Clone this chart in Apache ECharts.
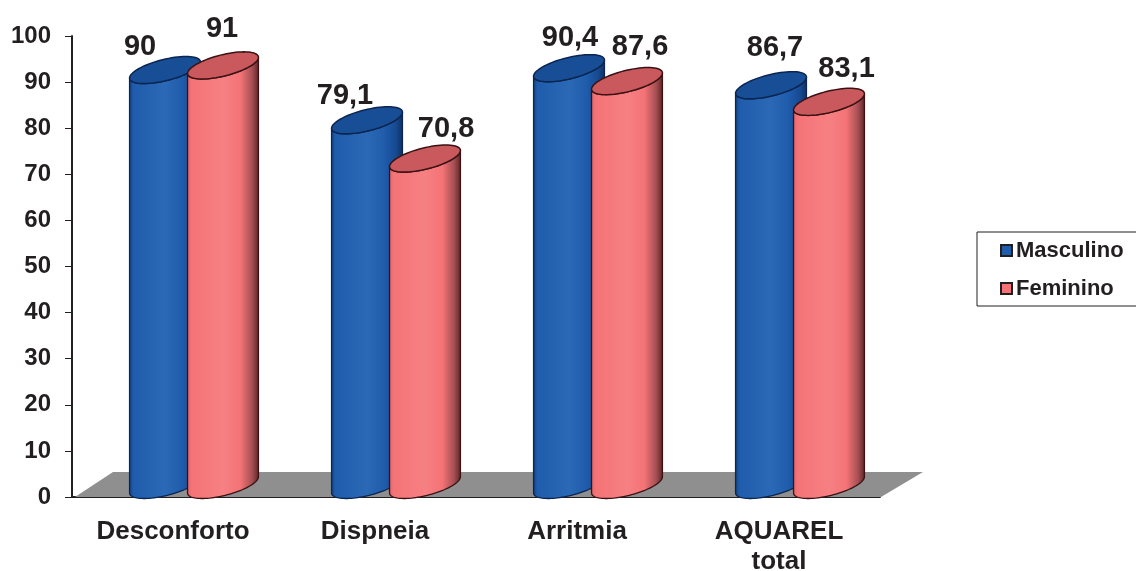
<!DOCTYPE html>
<html>
<head>
<meta charset="utf-8">
<style>html,body{margin:0;padding:0;background:#fff;overflow:hidden}#chart{width:1136px;height:571px}</style>
<script src="https://cdn.jsdelivr.net/npm/echarts@6/dist/echarts.min.js"></script>
</head>
<body>
<div id="chart"></div>
<script>
const categories = ['Desconforto', 'Dispneia', 'Arritmia', 'AQUAREL\ntotal'];
const masculino = [90, 79.1, 90.4, 86.7];
const feminino = [91, 70.8, 87.6, 83.1];

// Hand placement of the value labels relative to each cylinder's left shoulder
const masculinoNudge = [[10.5, -35], [13.4, -36.8], [36.4, -41.8], [39.4, -49.3]];
const femininoNudge = [[34.5, -48.5], [56.5, -41.5], [48.5, -45.7], [53, -44.9]];

const FONT = '"Liberation Sans", Arial, sans-serif';
const INK = '#231f20';

// Cylinder proportions, as fractions of one category band
const WIDTH_FRAC = 0.35;
const TILT = 0.25;       // rise of the ellipse's long axis over its run
const MINOR_FRAC = 0.15; // minor semi-axis relative to cylinder width

const fmt = v => String(v).replace('.', ',');

function ellipsePoint(c, a, b, t) {
  return [c[0] + a[0] * Math.cos(t) + b[0] * Math.sin(t),
          c[1] + a[1] * Math.cos(t) + b[1] * Math.sin(t)];
}

function arc(c, a, b, from, to, n) {
  const pts = [];
  for (let i = 0; i <= n; i++) pts.push(ellipsePoint(c, a, b, from + (to - from) * i / n));
  return pts;
}

function cylinderItem(palette, bandOffset, nudges) {
  return function (params, api) {
    const idx = api.value(0);
    const value = api.value(1);
    const band = api.size([1, 0])[0];
    const top = api.coord([idx, value]);
    const base = api.coord([idx, 0]);
    const w = band * WIDTH_FRAC;
    const left = top[0] + band * bandOffset;

    // long axis rises to the right, short axis is perpendicular to it
    const a = [w / 2, -w / 2 * TILT];
    const len = Math.hypot(a[0], a[1]);
    const ry = w * MINOR_FRAC;
    const b = [-a[1] / len * ry, a[0] / len * ry];

    // parameters of the vertical tangents on the silhouette
    const tR = Math.atan2(b[0], a[0]);
    const tL = tR + Math.PI;
    const halfW = ellipsePoint([0, 0], a, b, tR)[0];
    // the lowest point of each ellipse sits just under the value's height
    const anchorDy = 1.5 - Math.hypot(a[1], b[1]);

    const cx = left + halfW;
    const cTop = [cx, top[1] + anchorDy];
    const cBase = [cx, base[1] + anchorDy];

    // side wall: front of the base, then up and across the front of the lid
    const body = arc(cBase, a, b, tL, tR, 48).concat(arc(cTop, a, b, tR, tL, 48));
    const lid = arc(cTop, a, b, 0, Math.PI * 2, 72);

    const side = new echarts.graphic.LinearGradient(0, 0, 1, 0, [
      { offset: 0, color: palette[0] },
      { offset: 0.06, color: palette[1] },
      { offset: 0.5, color: palette[2] },
      { offset: 0.74, color: palette[1] },
      { offset: 0.9, color: palette[3] },
      { offset: 1, color: palette[6] }
    ]);

    const nudge = nudges[idx];
    return {
      type: 'group',
      children: [
        { type: 'polygon', shape: { points: body },
          style: { fill: side, stroke: palette[5], lineWidth: 1.3 } },
        { type: 'polygon', shape: { points: lid },
          style: { fill: palette[4], stroke: palette[5], lineWidth: 1.5 } },
        { type: 'text', z2: 10,
          style: { text: fmt(value), x: left + nudge[0], y: top[1] + nudge[1],
                   align: 'center', verticalAlign: 'middle',
                   font: 'bold 29px ' + FONT, fill: INK } }
      ]
    };
  };
}

const chart = echarts.init(document.getElementById('chart'), null, { renderer: 'canvas' });

chart.setOption({
  animation: false,
  backgroundColor: '#ffffff',
  grid: { left: 72, top: 36, width: 808, height: 461, containLabel: false, outerBoundsMode: 'none' },
  legend: {
    left: 977, top: 232, orient: 'vertical',
    itemWidth: 11, itemHeight: 11, itemGap: 13,
    padding: [6, 20, 5, 23],
    borderColor: INK, borderWidth: 1, backgroundColor: '#fff',
    textStyle: { fontFamily: FONT, fontWeight: 'bold', fontSize: 22, lineHeight: 25, color: INK, padding: [0, 0, 0, -1] },
    data: [
      { name: 'Masculino', icon: 'rect', itemStyle: { color: '#1f5cab', borderColor: INK, borderWidth: 2 } },
      { name: 'Feminino', icon: 'rect', itemStyle: { color: '#f47376', borderColor: INK, borderWidth: 2 } }
    ]
  },
  xAxis: {
    type: 'category', data: categories,
    axisLine: { onZero: false, lineStyle: { color: INK, width: 2 } },
    axisTick: { alignWithLabel: false, length: 7, lineStyle: { color: INK, width: 1 } },
    axisLabel: { fontFamily: FONT, fontWeight: 'bold', fontSize: 26, color: INK, margin: 20, lineHeight: 30 }
  },
  yAxis: {
    type: 'value', min: 0, max: 100, interval: 10,
    splitLine: { show: false },
    axisLine: { show: true, lineStyle: { color: INK, width: 2 } },
    axisTick: { show: true, length: 7, lineStyle: { color: INK, width: 1 } },
    axisLabel: { fontFamily: FONT, fontWeight: 'bold', fontSize: 24, color: INK, margin: 21, padding: [4, 0, 0, 0] }
  },
  series: [
    {
      // grey floor of the plot, running behind the cylinders
      name: 'floor', type: 'custom', silent: true, z: 1,
      data: [[0, 0]],
      renderItem: function (params, api) {
        const o = api.coord([0, 0]);
        const band = api.size([1, 0])[0];
        const x0 = o[0] - band / 2;
        const x1 = x0 + band * categories.length;
        const y = o[1];
        return {
          type: 'polygon',
          shape: { points: [[x0 + 3, y], [x0 + 41, y - 25], [x1 + 43, y - 25], [x1 + 1, y]] },
          style: { fill: '#8f8f8f' }
        };
      }
    },
    {
      name: 'Masculino', type: 'custom', z: 2,
      encode: { x: 0, y: 1 },
      data: masculino.map((v, i) => [i, v]),
      renderItem: cylinderItem(['#123f7c', '#1f5cab', '#2b68b6', '#164a92', '#174e96', '#0b2550', '#0e2f60'], -0.215, masculinoNudge)
    },
    {
      name: 'Feminino', type: 'custom', z: 3,
      encode: { x: 0, y: 1 },
      data: feminino.map((v, i) => [i, v]),
      renderItem: cylinderItem(['#d96468', '#f47376', '#f68083', '#a85054', '#c9595c', '#3a1214', '#5a2326'], 0.072, femininoNudge)
    }
  ]
});
</script>
</body>
</html>
